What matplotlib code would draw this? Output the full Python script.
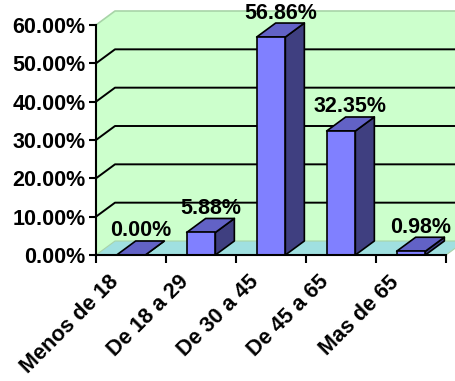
import matplotlib
matplotlib.use("Agg")
import matplotlib.pyplot as plt
from matplotlib.patches import Polygon
from matplotlib.transforms import offset_copy

categories = ["Menos de 18", "De 18 a 29", "De 30 a 45", "De 45 a 65", "Mas de 65"]
values = [0.00, 5.88, 56.86, 32.35, 0.98]
value_labels = ["0.00%", "5.88%", "56.86%", "32.35%", "0.98%"]
yticks = [0, 10, 20, 30, 40, 50, 60]
ytick_labels = ["0.00%", "10.00%", "20.00%", "30.00%", "40.00%", "50.00%", "60.00%"]

FRONT = "#8080FF"
SIDE = "#3F3F80"
TOP = "#6262C6"
WALL = "#CCFFCC"
FLOOR = "#A0E0E0"
EDGE_LIGHT = "#A8D4A8"

plt.rcParams["font.family"] = ["Liberation Sans", "DejaVu Sans"]
plt.rcParams["font.weight"] = "bold"
FS = 15.5

W, H = 455, 381
fig = plt.figure(figsize=(W / 100, H / 100), dpi=100)
left_px, right_px, top_px, bot_px = 96, 446, 25, 255
ax = fig.add_axes([left_px / W, (H - bot_px) / H, (right_px - left_px) / W, (bot_px - top_px) / H])
n = len(categories)
ax.set_xlim(0, n)
ax.set_ylim(0, 60)
ax.set_facecolor("none")

px_x = (right_px - left_px) / n          # px per category
px_y = (bot_px - top_px) / 60.0          # px per percent
DX = 19 / px_x
DY = 14 / px_y
ymax = yticks[-1]

# walls
ax.add_patch(Polygon([(DX, DY), (n + DX + 1, DY), (n + DX + 1, ymax + DY), (DX, ymax + DY)],
                     closed=True, facecolor=WALL, edgecolor="none", zorder=0, clip_on=False))
ax.add_patch(Polygon([(0, 0), (0, ymax), (DX, ymax + DY), (DX, DY)],
                     closed=True, facecolor=WALL, edgecolor="none", zorder=0, clip_on=False))
ax.plot([0, DX, n + DX + 1], [ymax, ymax + DY, ymax + DY], color=EDGE_LIGHT, lw=1.2,
        zorder=1, clip_on=False)

# gridlines
for v in yticks[1:-1]:
    ax.plot([0, DX, n + DX + 1], [v, v + DY, v + DY], color="black", lw=1.4, zorder=1,
            clip_on=False)

# floor
ax.add_patch(Polygon([(0, 0), (n, 0), (n + DX, DY), (DX, DY)], closed=True,
                     facecolor=FLOOR, edgecolor=EDGE_LIGHT, lw=0.8, zorder=2, clip_on=False))

# bars
bw = 0.41
for i, v in enumerate(values):
    x0 = i + 0.5 - bw / 2
    x1 = x0 + bw
    kw = dict(closed=True, edgecolor="black", lw=1.2, zorder=3, clip_on=False, joinstyle="round")
    ax.add_patch(Polygon([(x1, 0), (x1 + DX, DY), (x1 + DX, v + DY), (x1, v)], facecolor=SIDE, **kw))
    ax.add_patch(Polygon([(x0, v), (x1, v), (x1 + DX, v + DY), (x0 + DX, v + DY)], facecolor=TOP, **kw))
    ax.add_patch(Polygon([(x0, 0), (x1, 0), (x1, v), (x0, v)], facecolor=FRONT, **kw))
    ax.text(i + 0.5 + DX / 2, v + DY + 4.5 / px_y, value_labels[i], ha="center", va="baseline",
            fontsize=FS, fontweight="bold", zorder=5)

# axes styling
for s in ["top", "right"]:
    ax.spines[s].set_visible(False)
for s in ["left", "bottom"]:
    ax.spines[s].set_linewidth(1.5)
    ax.spines[s].set_zorder(4)
ax.set_yticks(yticks)
ax.set_yticklabels(ytick_labels, fontsize=FS, fontweight="bold")
ax.tick_params(axis="y", direction="out", length=5, width=1.5, pad=2.5)
ax.set_xticks(range(n + 1))
ax.set_xticklabels([])
ax.tick_params(axis="x", which="major", direction="out", length=6, width=1.5)

base = ax.get_xaxis_transform()
for i, c in enumerate(categories):
    tr = offset_copy(base, fig=fig, x=-15, y=-24, units="dots")
    ax.text(i + 0.5, 0, c, transform=tr, rotation=45, rotation_mode="anchor",
            ha="right", va="center", fontsize=15.5, fontweight="bold")

fig.savefig("out.png", dpi=100)
